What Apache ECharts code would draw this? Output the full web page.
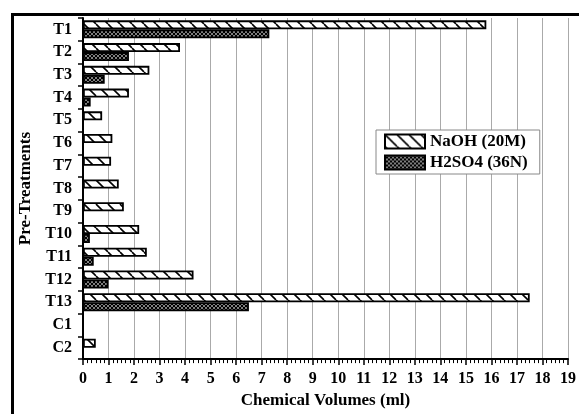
<!DOCTYPE html>
<html>
<head>
<meta charset="utf-8">
<script src="https://cdn.jsdelivr.net/npm/echarts@6/dist/echarts.min.js"></script>
<style>html,body{margin:0;padding:0;background:#fff}#c{width:579px;height:414px}</style>
</head>
<body>
<div id="c"></div>
<script>
const categories = ['T1','T2','T3','T4','T5','T6','T7','T8','T9','T10','T11','T12','T13','C1','C2'];
const naoh = [15.8, 3.8, 2.6, 1.8, 0.75, 1.15, 1.1, 1.4, 1.6, 2.2, 2.5, 4.33, 17.5, 0, 0.5];
const h2so4 = [7.3, 1.8, 0.85, 0.3, 0, 0, 0, 0, 0, 0.27, 0.42, 1.0, 6.5, 0, 0];
const xTicks = [0,1,2,3,4,5,6,7,8,9,10,11,12,13,14,15,16,17,18,19];

function hatch() {
  const s = 12, c = document.createElement('canvas');
  c.width = s; c.height = s;
  const g = c.getContext('2d');
  g.fillStyle = '#fff'; g.fillRect(0,0,s,s);
  g.strokeStyle = '#000'; g.lineWidth = 1.6;
  for (let k = -1; k <= 1; k++) { g.beginPath(); g.moveTo(k*s, 0); g.lineTo(k*s + s, s); g.stroke(); }
  return c;
}
function cross() {
  const s = 4, c = document.createElement('canvas');
  c.width = s; c.height = s;
  const g = c.getContext('2d');
  g.fillStyle = '#fff'; g.fillRect(0,0,s,s);
  g.strokeStyle = '#000'; g.lineWidth = 1.4;
  for (let k = -1; k <= 1; k++) {
    g.beginPath(); g.moveTo(k*s, 0); g.lineTo(k*s + s, s); g.stroke();
    g.beginPath(); g.moveTo(k*s + s, 0); g.lineTo(k*s, s); g.stroke();
  }
  return c;
}
const font = 'Liberation Serif';
const chart = echarts.init(document.getElementById('c'), null, {renderer: 'canvas'});
chart.setOption({
  animation: false,
  backgroundColor: '#fff',
  textStyle: {fontFamily: font},
  grid: {left: 83, right: 10, top: 18, bottom: 51},
  legend: {
    orient: 'vertical', left: 376, top: 130,
    itemWidth: 40, itemHeight: 14, itemGap: 4,
    padding: [3, 12, 3, 8],
    icon: 'rect',
    borderColor: '#888', borderWidth: 1, backgroundColor: '#fff',
    textStyle: {fontFamily: font, fontWeight: 'bold', fontSize: 17, color: '#000'},
    data: ['NaOH (20M)', 'H2SO4 (36N)']
  },
  xAxis: {
    type: 'value', min: 0, max: 19, interval: 1,
    name: 'Chemical Volumes (ml)', nameLocation: 'middle', nameGap: 32,
    nameTextStyle: {fontFamily: font, fontWeight: 'bold', fontSize: 17, color: '#000'},
    axisLine: {show: true, lineStyle: {color: '#000', width: 2}},
    axisTick: {show: true, length: 6, lineStyle: {color: '#000', width: 1.5}},
    minorTick: {show: true, splitNumber: 6, length: 4, lineStyle: {color: '#000', width: 1}},
    axisLabel: {fontFamily: font, fontWeight: 'bold', fontSize: 16, color: '#000', margin: 12,
      formatter: v => xTicks.includes(v) ? String(v) : ''},
    splitLine: {show: true, lineStyle: {color: '#aaa', width: 1}}
  },
  yAxis: {
    type: 'category', data: categories, inverse: true,
    name: 'Pre-Treatments', nameLocation: 'middle', nameGap: 48,
    nameTextStyle: {fontFamily: font, fontWeight: 'bold', fontSize: 17, color: '#000'},
    axisLine: {show: true, lineStyle: {color: '#000', width: 2}},
    axisTick: {show: true, length: 5, lineStyle: {color: '#000', width: 1.5}},
    axisLabel: {fontFamily: font, fontWeight: 'bold', fontSize: 16, color: '#000', margin: 11},
    splitLine: {show: false}
  },
  series: [
    {name: 'NaOH (20M)', type: 'bar', data: naoh, barWidth: 9, barGap: '0%',
     itemStyle: {color: {image: hatch(), repeat: 'repeat'}, borderColor: '#000', borderWidth: 1.8}},
    {name: 'H2SO4 (36N)', type: 'bar', data: h2so4, barWidth: 9, barGap: '0%',
     itemStyle: {color: {image: cross(), repeat: 'repeat'}, borderColor: '#000', borderWidth: 1.8}}
  ],
  graphic: [
    {type: 'line', silent: true, z: 100, shape: {x1: 11, y1: 14.5, x2: 579, y2: 14.5}, style: {stroke: '#000', lineWidth: 3}},
    {type: 'line', silent: true, z: 100, shape: {x1: 12.5, y1: 13, x2: 12.5, y2: 414}, style: {stroke: '#000', lineWidth: 3}}
  ]
});
</script>
</body>
</html>
